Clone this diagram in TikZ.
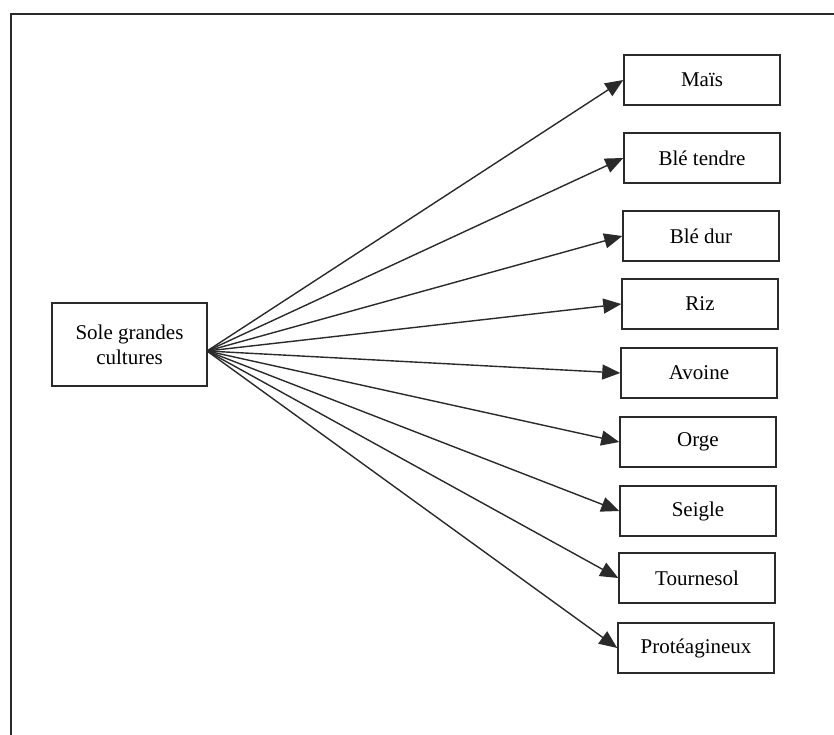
\documentclass[tikz,border=0pt]{standalone}
\usepackage{fontspec}
\setmainfont{Liberation Serif}
\usetikzlibrary{arrows.meta}
\definecolor{ink}{HTML}{2A2A2A}
\begin{document}
\begin{tikzpicture}[x=1pt,y=-1pt,
  cropbox/.style={draw=ink,line width=1.5pt,minimum width=156pt,minimum height=50pt,inner sep=0pt,font=\fontsize{21}{24}\selectfont},
  srcbox/.style={draw=ink,line width=1.5pt,minimum width=155pt,minimum height=83pt,inner sep=0pt,align=center,font=\fontsize{21}{25}\selectfont},
  link/.style={draw=ink,line width=1.4pt,-{Triangle[length=18pt,width=15pt]}}]
\useasboundingbox (0,0) rectangle (834,735);
\draw[ink,line width=1.4pt] (11,735) -- (11,14) -- (834,14);
\node[srcbox] (src) at (129.5,344.5) {Sole grandes\\cultures};
\coordinate (o) at (207,351);
\node[cropbox] (mais) at (702,80) {Maïs};
\node[cropbox] (bt) at (702,158) {Blé tendre};
\node[cropbox] (bd) at (701,236) {Blé dur};
\node[cropbox] (riz) at (700,304) {Riz};
\node[cropbox] (avo) at (699,373) {Avoine};
\node[cropbox] (orge) at (698,442) {Orge};
\node[cropbox] (sei) at (698,511) {Seigle};
\node[cropbox] (tou) at (697,578) {Tournesol};
\node[cropbox] (pro) at (696,648) {Protéagineux};
\foreach \b in {mais,bt,bd,riz,avo,orge,sei,tou,pro}
  \draw[link] (o) -- (\b.west);
\end{tikzpicture}
\end{document}
